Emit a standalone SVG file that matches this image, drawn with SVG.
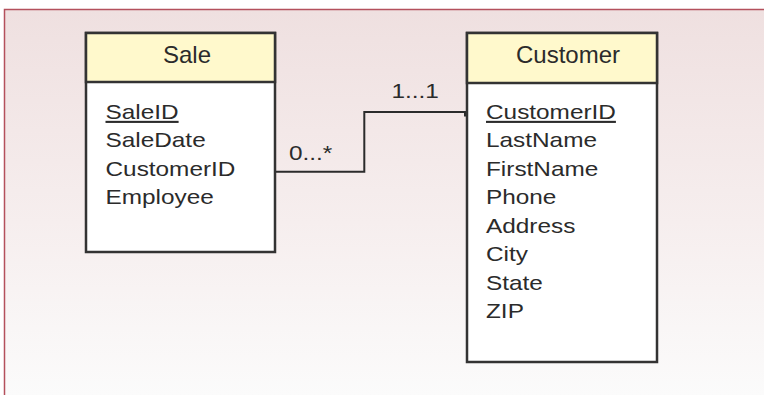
<svg xmlns="http://www.w3.org/2000/svg" width="764" height="395" viewBox="0 0 764 395">
  <defs>
    <linearGradient id="panelFill" x1="0" y1="0" x2="0" y2="1">
      <stop offset="0" stop-color="#efe0e0"/>
      <stop offset="0.55" stop-color="#f6eeee"/>
      <stop offset="1" stop-color="#fbfbfb"/>
    </linearGradient>
  </defs>
  <style>
    .frame { fill: none; stroke: #b4505c; stroke-width: 1.5; }
    .box { fill: #ffffff; stroke: #333333; stroke-width: 2.5; }
    .head { fill: #fff9cc; stroke: #333333; stroke-width: 2.5; }
    .title { font-family: "Liberation Sans", Arial, sans-serif; font-size: 24px; fill: #2b2b2b; text-anchor: middle; }
    .field { font-family: "Liberation Sans", Arial, sans-serif; font-size: 21px; fill: #2b2b2b; }
    .key { text-decoration: underline; }
    .link { fill: none; stroke: #2b2b2b; stroke-width: 2; }
  </style>

  <!-- background panel -->
  <rect x="4.5" y="9.5" width="760" height="386" fill="url(#panelFill)"/>
  <path class="frame" d="M4.5 395 V9.5 H764"/>

  <!-- relationship connector -->
  <g id="connectors">
    <path class="link" d="M275 171.7 H364.3 V112 H465 V116.5"/>
    <g transform="translate(289 160) scale(1.16 1)">
      <text class="field" x="0" y="0">0...*</text>
    </g>
    <g transform="translate(391.5 98.3) scale(1.16 1)">
      <text class="field" x="0" y="0">1...1</text>
    </g>
  </g>

  <!-- Sale entity -->
  <g id="sale">
    <rect class="box" x="86" y="33" width="189" height="219"/>
    <rect class="head" x="86" y="33" width="189" height="49"/>
    <text class="title" x="187" y="63.3">Sale</text>
    <g transform="translate(105.5 0) scale(1.16 1)">
      <text class="field key" x="0" y="119">SaleID</text>
      <text class="field" x="0" y="147.5">SaleDate</text>
      <text class="field" x="0" y="176">CustomerID</text>
      <text class="field" x="0" y="204.5">Employee</text>
    </g>
  </g>

  <!-- Customer entity -->
  <g id="customer">
    <rect class="box" x="467" y="33" width="190" height="329"/>
    <rect class="head" x="467" y="33" width="190" height="50"/>
    <text class="title" x="568" y="63.3">Customer</text>
    <g transform="translate(486 0) scale(1.16 1)">
      <text class="field key" x="0" y="119">CustomerID</text>
      <text class="field" x="0" y="147.5">LastName</text>
      <text class="field" x="0" y="176">FirstName</text>
      <text class="field" x="0" y="204.5">Phone</text>
      <text class="field" x="0" y="233">Address</text>
      <text class="field" x="0" y="261.5">City</text>
      <text class="field" x="0" y="290">State</text>
      <text class="field" x="0" y="318.5">ZIP</text>
    </g>
  </g>
</svg>
